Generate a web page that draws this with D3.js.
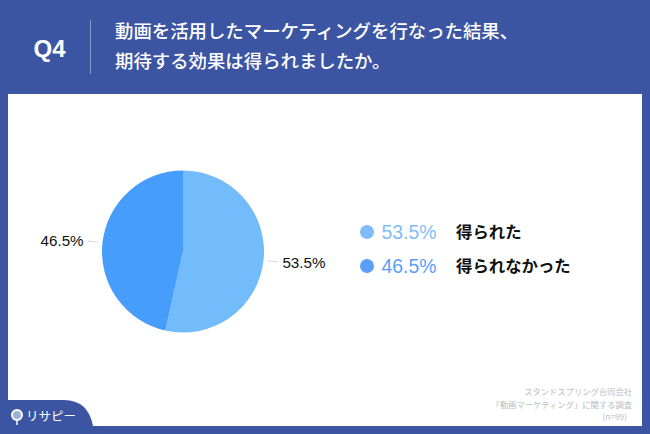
<!DOCTYPE html>
<html>
<head>
<meta charset="utf-8">
<script src="https://cdn.jsdelivr.net/npm/d3@7"></script>
<style>
  html, body { margin: 0; padding: 0; background: #3b55a3; }
  svg { display: block; }
  text { font-family: "Noto Sans CJK JP", "Liberation Sans", sans-serif; }
  .num { font-family: "Liberation Sans", "Noto Sans CJK JP", sans-serif; }
</style>
</head>
<body>
<div id="graf"></div>
<script>
// Datos
const categorias = ['得られた', '得られなかった']
const valores = [53.5, 46.5]
const etiquetas = ['53.5%', '46.5%']
const coloresPie = ['#72bcfb', '#479dfb']
const coloresLeyenda = ['#7fbcfb', '#5a9ff5']

const titulo = ['動画を活用したマーケティングを行なった結果、', '期待する効果は得られましたか。']
const nota = ['スタンドスプリング合同会社', '「動画マーケティング」に関する調査', '(n=99)']

const ancho = 650
const alto = 434
const azul = '#3b55a3'

const svg = d3.select('#graf').append('svg')
  .attr('width', ancho)
  .attr('height', alto)

svg.append('rect').attr('width', ancho).attr('height', alto).attr('fill', azul)

// Panel blanco
svg.append('rect')
  .attr('x', 8).attr('y', 94)
  .attr('width', 634).attr('height', 332)
  .attr('fill', '#ffffff')

// Cabecera
svg.append('text')
  .attr('class', 'num')
  .attr('x', 49.5).attr('y', 57)
  .attr('text-anchor', 'middle')
  .attr('font-size', 24).attr('font-weight', 700)
  .attr('fill', '#ffffff')
  .text('Q4')

svg.append('line')
  .attr('x1', 90.5).attr('x2', 90.5)
  .attr('y1', 20).attr('y2', 74)
  .attr('stroke', '#8a9bcb').attr('stroke-width', 1)

svg.selectAll('.titulo')
  .data(titulo)
  .join('text')
  .attr('class', 'titulo')
  .attr('x', 115)
  .attr('y', (d, i) => 37.5 + i * 30.5)
  .attr('font-size', 18.4).attr('font-weight', 500)
  .attr('fill', '#ffffff')
  .text(d => d)

// Pie
const cx = 183
const cy = 251.5
const radio = 81

const pie = d3.pie().sort(null)
const arco = d3.arc().innerRadius(0).outerRadius(radio)
const arcos = pie(valores)

const g = svg.append('g').attr('transform', `translate(${cx}, ${cy})`)

g.selectAll('path')
  .data(arcos)
  .join('path')
  .attr('d', arco)
  .attr('fill', (d, i) => coloresPie[i])

// Lineas guia y etiquetas
const puntoEn = (d, r) => d3.arc().innerRadius(r).outerRadius(r).centroid(d)

g.selectAll('.guia')
  .data(arcos)
  .join('line')
  .attr('class', 'guia')
  .attr('x1', d => puntoEn(d, radio + 4)[0])
  .attr('y1', d => puntoEn(d, radio + 4)[1])
  .attr('x2', d => puntoEn(d, radio + 15)[0])
  .attr('y2', d => puntoEn(d, radio + 15)[1])
  .attr('stroke', '#d9d9d9').attr('stroke-width', 1)

g.selectAll('.etiqueta')
  .data(arcos)
  .join('text')
  .attr('class', 'etiqueta num')
  .attr('x', d => puntoEn(d, radio + 19)[0])
  .attr('y', d => puntoEn(d, radio + 19)[1] + 5.5)
  .attr('text-anchor', (d, i) => i === 0 ? 'start' : 'end')
  .attr('font-size', 15.2)
  .attr('fill', '#111111')
  .text((d, i) => etiquetas[i])

// Leyenda
const yLeyenda = d3.scalePoint().domain(categorias).range([232, 266])

const leyenda = svg.selectAll('.leyenda')
  .data(categorias)
  .join('g')
  .attr('class', 'leyenda')
  .attr('transform', d => `translate(0, ${yLeyenda(d)})`)

leyenda.append('circle')
  .attr('cx', 367).attr('cy', 0).attr('r', 7)
  .attr('fill', (d, i) => coloresLeyenda[i])

leyenda.append('text')
  .attr('class', 'num')
  .attr('x', 381.5).attr('y', 6.5)
  .attr('font-size', 19.4)
  .attr('fill', (d, i) => coloresLeyenda[i])
  .text((d, i) => etiquetas[i])

leyenda.append('text')
  .attr('x', 456).attr('y', 5.5)
  .attr('font-size', 16.4).attr('font-weight', 700)
  .attr('fill', '#111111')
  .text(d => d)

// Nota
svg.selectAll('.nota')
  .data(nota)
  .join('text')
  .attr('class', 'nota')
  .attr('x', (d, i) => i === 2 ? 627 : 632)
  .attr('y', (d, i) => 395 + i * 12.5)
  .attr('text-anchor', 'end')
  .attr('font-size', 8.3)
  .attr('fill', '#bdbdbd')
  .text(d => d)

// Pestaña del logo
svg.append('path')
  .attr('d', 'M0,400 H64 Q88,400 93,426 V434 H0 Z')
  .attr('fill', azul)

svg.append('path')
  .attr('d', 'M17,421 V425')
  .attr('stroke', '#ffffff').attr('stroke-width', 1.5)

svg.append('circle')
  .attr('cx', 17).attr('cy', 415).attr('r', 5)
  .attr('fill', '#9fb0d8').attr('stroke', '#ffffff').attr('stroke-width', 2)

svg.append('text')
  .attr('x', 26).attr('y', 421)
  .attr('font-size', 12.5).attr('font-weight', 400)
  .attr('fill', '#ffffff')
  .text('リサピー')
</script>
</body>
</html>
